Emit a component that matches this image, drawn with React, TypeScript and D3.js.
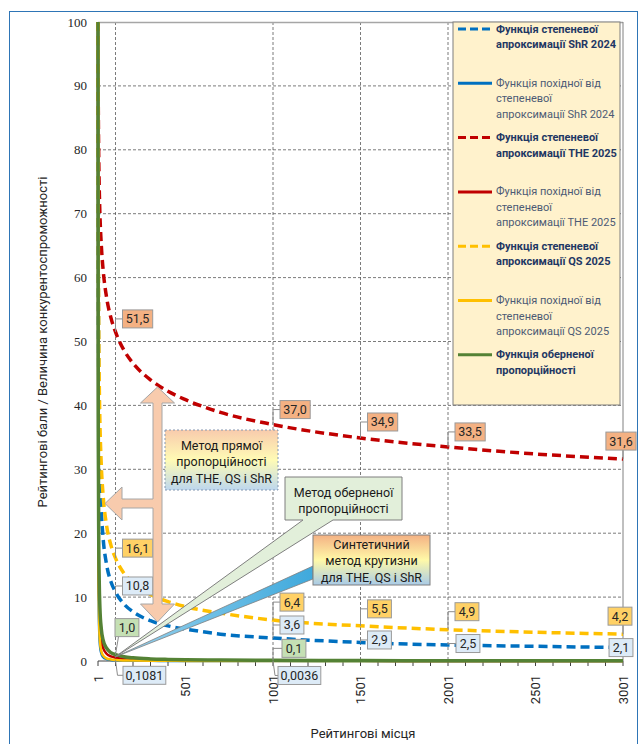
import React from "react";
import * as d3 from "d3";

// ---- data ----
const ranks = [1, 2, 3, 5, 8, 12, 20, 30, 50, 75, 101, 150, 201, 301, 401, 501, 701, 1001, 1501, 2001, 2501, 3001];
const shrFit = [100, 71.5, 58.8, 46.0, 36.6, 30.1, 23.5, 19.3, 15.1, 12.4, 10.8, 8.9, 7.7, 6.3, 5.5, 5.0, 4.2, 3.6, 2.9, 2.5, 2.3, 2.1];
const shrDeriv = [100, 35.8, 19.6, 9.2, 4.6, 2.5, 1.18, 0.64, 0.3, 0.17, 0.1081, 0.06, 0.039, 0.021, 0.014, 0.01, 0.0059, 0.0036, 0.0019, 0.0013, 0.00092, 0.0007];
const theFit = [100, 90.5, 85.4, 79.3, 74.1, 69.9, 65.0, 61.3, 56.9, 53.7, 51.5, 48.6, 46.6, 44.0, 42.2, 40.9, 38.9, 37.0, 34.9, 33.5, 32.4, 31.6];
const theDeriv = [100, 45.2, 28.5, 15.9, 9.3, 5.8, 3.25, 2.04, 1.14, 0.72, 0.51, 0.32, 0.23, 0.15, 0.105, 0.08, 0.055, 0.037, 0.023, 0.017, 0.013, 0.011];
const qsFit = [100, 76.0, 64.7, 52.9, 43.9, 37.4, 30.5, 26.0, 21.2, 18.1, 16.1, 13.7, 12.2, 10.4, 9.3, 8.5, 7.5, 6.4, 5.5, 4.9, 4.5, 4.2];
const qsDeriv = [100, 38.0, 21.6, 10.6, 5.5, 3.1, 1.53, 0.87, 0.42, 0.24, 0.16, 0.09, 0.06, 0.034, 0.023, 0.017, 0.011, 0.0065, 0.0037, 0.0025, 0.0018, 0.0014];
const inverse = [100, 50, 33.3, 20, 12.5, 8.3, 5.0, 3.3, 2.0, 1.3, 1.0, 0.67, 0.5, 0.33, 0.25, 0.2, 0.14, 0.1, 0.07, 0.05, 0.04, 0.03];

const xTickLabels = [1, 501, 1001, 1501, 2001, 2501, 3001];
const yTicks = [0, 10, 20, 30, 40, 50, 60, 70, 80, 90, 100];
const xGridRanks = [101, 1001, 1501, 2001];

const legendLabels = [
  ["Функція степеневої", "апроксимації ShR 2024"],
  ["Функція похідної від", "степеневої", "апроксимації ShR 2024"],
  ["Функція степеневої", "апроксимації THE 2025"],
  ["Функція похідної від", "степеневої", "апроксимації THE 2025"],
  ["Функція степеневої", "апроксимації QS 2025"],
  ["Функція похідної від", "степеневої", "апроксимації QS 2025"],
  ["Функція оберненої", "пропорційності"],
];

// label ranks for the data labels
const labelRanks = [101, 1001, 1501, 2001, 3001];

const W = 641, H = 744;
const x = d3.scaleLinear().domain([1, 3001]).range([98, 623]);
const y = d3.scaleLinear().domain([0, 100]).range([661, 22]);

const BLUE = "#0070C0", RED = "#C00000", YEL = "#FFC000", GRN = "#548235";

const series = [
  { values: shrFit, color: BLUE, dashed: true, width: 3.5 },
  { values: shrDeriv, color: BLUE, dashed: false, width: 2.5 },
  { values: theFit, color: RED, dashed: true, width: 3.5 },
  { values: theDeriv, color: RED, dashed: false, width: 2.5 },
  { values: qsFit, color: YEL, dashed: true, width: 3.5 },
  { values: qsDeriv, color: YEL, dashed: false, width: 2.5 },
  { values: inverse, color: GRN, dashed: false, width: 3.5 },
];

const FONT = "Roboto, 'Liberation Sans', sans-serif";

const fmt = (v: number, d = 1) => v.toFixed(d).replace(".", ",");

type Lbl = { data: number[]; r: number; fill: string; dx: number; dy: number; mode: "right" | "above" | "below" | "up"; dec?: number };

function valueAt(data: number[], r: number) {
  return data[ranks.indexOf(r)];
}

const ORANGE_L = "#F4B183", YEL_L = "#FFD166", BLUE_L = "#DDEBF7", GRN_L = "#C5E0B4";

const labels: Lbl[] = [
  { data: theFit, r: labelRanks[0], fill: ORANGE_L, dx: 7, dy: -13, mode: "right" },
  { data: theFit, r: labelRanks[1], fill: ORANGE_L, dx: 7, dy: -15, mode: "right" },
  { data: theFit, r: labelRanks[2], fill: ORANGE_L, dx: 7, dy: -16, mode: "right" },
  { data: theFit, r: labelRanks[3], fill: ORANGE_L, dx: 7, dy: -15, mode: "right" },
  { data: theFit, r: labelRanks[4], fill: ORANGE_L, dx: -2, dy: -18, mode: "above" },
  { data: qsFit, r: labelRanks[0], fill: YEL_L, dx: 7, dy: -10, mode: "right" },
  { data: qsFit, r: labelRanks[1], fill: YEL_L, dx: 7, dy: -18, mode: "right" },
  { data: qsFit, r: labelRanks[2], fill: YEL_L, dx: 7, dy: -17, mode: "right" },
  { data: qsFit, r: labelRanks[3], fill: YEL_L, dx: 7, dy: -18, mode: "right" },
  { data: qsFit, r: labelRanks[4], fill: YEL_L, dx: -3, dy: -18, mode: "above" },
  { data: shrFit, r: labelRanks[0], fill: BLUE_L, dx: 7, dy: -6, mode: "right" },
  { data: shrFit, r: labelRanks[1], fill: BLUE_L, dx: 7, dy: -13, mode: "right" },
  { data: shrFit, r: labelRanks[2], fill: BLUE_L, dx: 7, dy: -2.5, mode: "right" },
  { data: shrFit, r: labelRanks[3], fill: BLUE_L, dx: 8, dy: -1.5, mode: "right" },
  { data: shrFit, r: labelRanks[4], fill: BLUE_L, dx: -2, dy: 0, mode: "above" },
  { data: inverse, r: labelRanks[0], fill: GRN_L, dx: 11, dy: -27, mode: "up" },
  { data: inverse, r: labelRanks[1], fill: GRN_L, dx: 9, dy: -12, mode: "right" },
  { data: shrDeriv, r: labelRanks[0], fill: BLUE_L, dx: 7.5, dy: 15, mode: "below", dec: 4 },
  { data: shrDeriv, r: labelRanks[1], fill: BLUE_L, dx: 5, dy: 14.5, mode: "below", dec: 4 },
];

function DataLabel({ l }: { l: Lbl }) {
  const v = valueAt(l.data, l.r);
  const px = x(l.r), py = y(v);
  const text = fmt(v, l.dec ?? 1);
  const w = text.length * 6.3 + 5;
  const h = 18;
  let bx: number, cy: number, leader: string;
  if (l.mode === "above") {
    cy = py + l.dy;
    bx = px + l.dx - w / 2;
    leader = `M${px},${py}V${cy + h / 2}`;
  } else if (l.mode === "up") {
    cy = py + l.dy;
    bx = px - 0.5;
    leader = `M${px},${py}L${px + l.dx - 8},${cy + h / 2}`;
  } else if (l.mode === "below") {
    cy = py + l.dy;
    bx = px + l.dx;
    leader = `M${px},${py}L${px + 2},${cy}H${bx}`;
  } else {
    cy = py + l.dy;
    bx = px + l.dx;
    leader = `M${px},${py}V${cy}H${bx}`;
  }
  return (
    <g>
      <path d={leader} fill="none" stroke="#8C8C8C" strokeWidth={1} />
      <rect x={bx} y={cy - h / 2} width={w} height={h} fill={l.fill} stroke="#9A9A9A" strokeWidth={1} />
      <text x={bx + w / 2} y={cy} textAnchor="middle" dominantBaseline="central" fontSize={12.5} fontFamily={FONT} fill="#262626">
        {text}
      </text>
    </g>
  );
}

export default function App() {
  const line = d3
    .line<number>()
    .x((_, i) => x(ranks[i]))
    .y((d) => y(d))
    .curve(d3.curveMonotoneX);

  const xMinor = d3.range(1, 3002, 100);
  const tip = { x: 115, y: 657 };

  return (
    <svg width={W} height={H} style={{ position: "absolute", left: 0, top: 0, display: "block" }} fontFamily={FONT}>
      <defs>
        <linearGradient id="g1" x1="0" y1="0" x2="0" y2="1">
          <stop offset="0" stopColor="#F8CBAD" />
          <stop offset="0.5" stopColor="#FFFBB5" />
          <stop offset="1" stopColor="#BDD7EE" />
        </linearGradient>
        <linearGradient id="g3" x1="0" y1="0" x2="0" y2="1">
          <stop offset="0" stopColor="#F4B183" />
          <stop offset="0.5" stopColor="#FFF9A8" />
          <stop offset="1" stopColor="#A9CBE8" />
        </linearGradient>
        <linearGradient id="gw" x1="0" y1="0" x2="1" y2="0">
          <stop offset="0" stopColor="#9AD3EE" />
          <stop offset="1" stopColor="#3FA9DC" />
        </linearGradient>
        <clipPath id="plot">
          <rect x={96} y={20} width={529} height={643} />
        </clipPath>
      </defs>
      <rect x={0} y={0} width={W} height={H} fill="#fff" />
      <rect x={9.5} y={11.5} width={628} height={760} fill="none" stroke="#2E75B6" strokeWidth={1} />

      {/* gridlines */}
      {yTicks.slice(1, -1).map((t) => (
        <line key={t} x1={98} x2={623} y1={y(t)} y2={y(t)} stroke="#595959" strokeWidth={0.8} strokeDasharray="3,2" />
      ))}
      {xGridRanks.map((r) => (
        <line key={r} x1={x(r)} x2={x(r)} y1={22} y2={661} stroke="#595959" strokeWidth={0.8} strokeDasharray="3,2" />
      ))}
      <line x1={98} x2={623} y1={22.5} y2={22.5} stroke="#A6A6A6" strokeWidth={1.5} />
      <line x1={623} x2={623} y1={22} y2={661} stroke="#808080" strokeWidth={1} />

      {/* x axis */}
      <line x1={98} x2={623} y1={661} y2={661} stroke="#404040" strokeWidth={1} />
      {xMinor.map((r) => (
        <line key={r} x1={x(r)} x2={x(r)} y1={661} y2={666} stroke="#404040" strokeWidth={1} />
      ))}
      {xTickLabels.map((r) => (
        <text key={r} transform={`translate(${x(r)},675) rotate(-90)`} textAnchor="end" dominantBaseline="central" fontSize={13} fill="#262626">
          {r}
        </text>
      ))}
      {yTicks.map((t) => (
        <text key={t} x={87} y={y(t)} textAnchor="end" dominantBaseline="central" fontSize={13} fontFamily="'Liberation Serif', serif" fill="#262626">
          {t}
        </text>
      ))}

      {/* axis titles */}
      <text transform="translate(42,342) rotate(-90)" textAnchor="middle" dominantBaseline="central" fontSize={13} fill="#262626">
        Рейтингові бали / Величина конкурентоспроможності
      </text>
      <text x={363} y={733} textAnchor="middle" dominantBaseline="central" fontSize={13} fill="#262626">
        Рейтингові місця
      </text>

      {/* curves */}
      <g clipPath="url(#plot)">
        {series.map((s, i) => (
          <path
            key={i}
            d={line(s.values) || ""}
            fill="none"
            stroke={s.color}
            strokeWidth={s.width}
            strokeDasharray={s.dashed ? "9,5" : undefined}
          />
        ))}
      </g>

      {/* data labels */}
      {labels.map((l, i) => (
        <DataLabel key={i} l={l} />
      ))}

      {/* direct proportionality arrow */}
      <path
        d="M157.5,387 L174.5,403 L162,403 L162,604 L174.5,604 L157.5,622 L140.5,604 L153,604 L153,508 L122,508 L122,520 L105,503.5 L122,487 L122,499 L153,499 L153,403 L140.5,403 Z"
        fill="#F8CBAD"
        stroke="#A6A6A6"
        strokeWidth={1}
      />
      <rect x={165} y={430} width={113} height={60} fill="url(#g1)" stroke="#8497B0" strokeWidth={1} strokeDasharray="2,2" />
      {["Метод прямої", "пропорційності", "для THE, QS і ShR"].map((t, i) => (
        <text key={i} x={221.5} y={445 + i * 16.5} textAnchor="middle" dominantBaseline="central" fontSize={12.5} fill="#1a1a1a">
          {t}
        </text>
      ))}

      {/* inverse proportionality callout */}
      <path
        d={`M285,477 H402 V520 H333 L${tip.x},${tip.y} L303,520 H285 Z`}
        fill="#E2EFDA"
        stroke="#7F7F7F"
        strokeWidth={1}
      />
      {["Метод оберненої", "пропорційності"].map((t, i) => (
        <text key={i} x={343.5} y={492 + i * 16} textAnchor="middle" dominantBaseline="central" fontSize={12.5} fill="#1a1a1a">
          {t}
        </text>
      ))}

      {/* synthetic steepness callout */}
      <path d={`M313,566 L${tip.x},${tip.y} L313,579 Z`} fill="url(#gw)" stroke="#7F7F7F" strokeWidth={0.8} />
      <rect x={313} y={535} width={117} height={50} fill="url(#g3)" stroke="#7F7F7F" strokeWidth={1} />
      {["Синтетичний", "метод крутизни", "для THE, QS і ShR"].map((t, i) => (
        <text key={i} x={371.5} y={544 + i * 16.5} textAnchor="middle" dominantBaseline="central" fontSize={12.5} fill="#1a1a1a">
          {t}
        </text>
      ))}

      {/* legend */}
      <rect x={453} y={22} width={167} height={383} fill="#FFF2CC" stroke="#7F7F7F" strokeWidth={1} />
      {series.map((s, i) => {
        const cy = 29 + i * 54.3;
        const bold = i % 2 === 0 || i === 6;
        return (
          <g key={i}>
            <line x1={458} x2={492} y1={cy} y2={cy} stroke={s.color} strokeWidth={3} strokeDasharray={s.dashed ? "8,4" : undefined} />
            {legendLabels[i].map((t, j) => (
              <text
                key={j}
                x={496}
                y={cy + j * 15.5}
                dominantBaseline="central"
                fontSize={11}
                fontWeight={bold ? 700 : 400}
                fill={bold ? "#1F3864" : "#4D5B75"}
              >
                {t}
              </text>
            ))}
          </g>
        );
      })}
    </svg>
  );
}
